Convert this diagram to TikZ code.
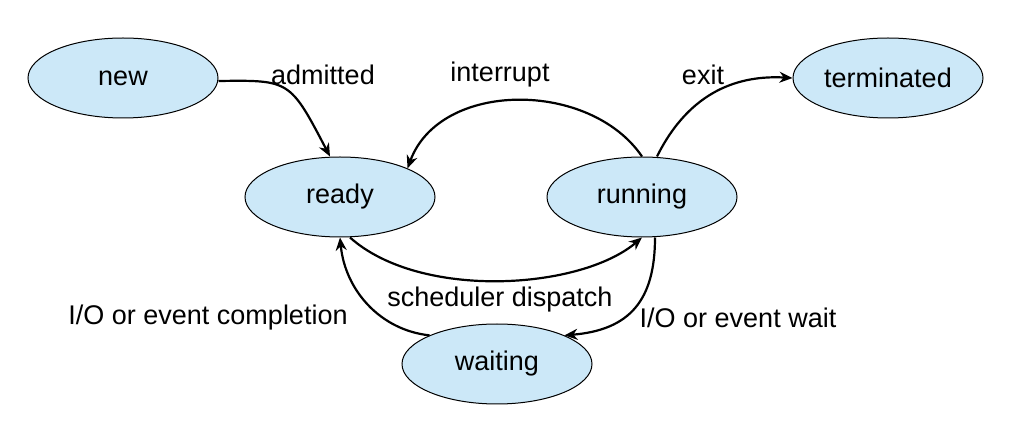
\documentclass[tikz,border=0pt]{standalone}
\usepackage{fontspec}
\setmainfont{Liberation Sans}
\usetikzlibrary{shapes.geometric,arrows.meta}
\definecolor{stfill}{RGB}{204,232,248}
\begin{document}
\begin{tikzpicture}[x=1pt,y=-1pt,
  st/.style={ellipse,draw,line width=1pt,fill=stfill,minimum width=190pt,minimum height=80pt,font=\fontsize{27}{31}\selectfont},
  ar/.style={line width=2.2pt,-{Stealth[length=13pt,width=11pt]}},
  lb/.style={font=\fontsize{27}{31}\selectfont}]
\useasboundingbox (0,0) rectangle (1013,443);
\node[st] (new) at (123,78) {new};
\node[st] (ready) at (340,197) {ready};
\node[st] (running) at (642,197) {running};
\node[st] (term) at (888,78) {terminated};
\node[st] (wait) at (497,364) {waiting};
\coordinate (c1) at ([xshift=15pt]running.north);
\coordinate (c2) at ([xshift=13pt]running.south);
\coordinate (r1) at ([xshift=-10pt]ready.north);
\draw[ar] ([yshift=-3pt]new.east) .. controls (290,80) .. (r1);
\draw[ar] (running.north) .. controls (590,80) and (440,80) .. (ready.north east);
\draw[ar] (c1) .. controls (690,90) and (740,75) .. (term.west);
\draw[ar] ([xshift=10pt]ready.south) .. controls (420,300) and (580,290) .. (running.south);
\draw[ar] (c2) .. controls (655,300) and (630,330) .. (wait.north east);
\draw[ar] (wait.north west) .. controls (380,330) and (345,290) .. (ready.south);
\node[lb] (l1) at (323,75) {admitted};
\node[lb] (l2) at (500,75) {interrupt};
\node[lb] (l3) at (703,75) {exit};
\node[lb] (l4) at (500,300) {scheduler dispatch};
\node[lb] (l5) at (738,318) {I/O or event wait};
\node[lb] (l6) at (208,318) {I/O or event completion};
\end{tikzpicture}
\end{document}
